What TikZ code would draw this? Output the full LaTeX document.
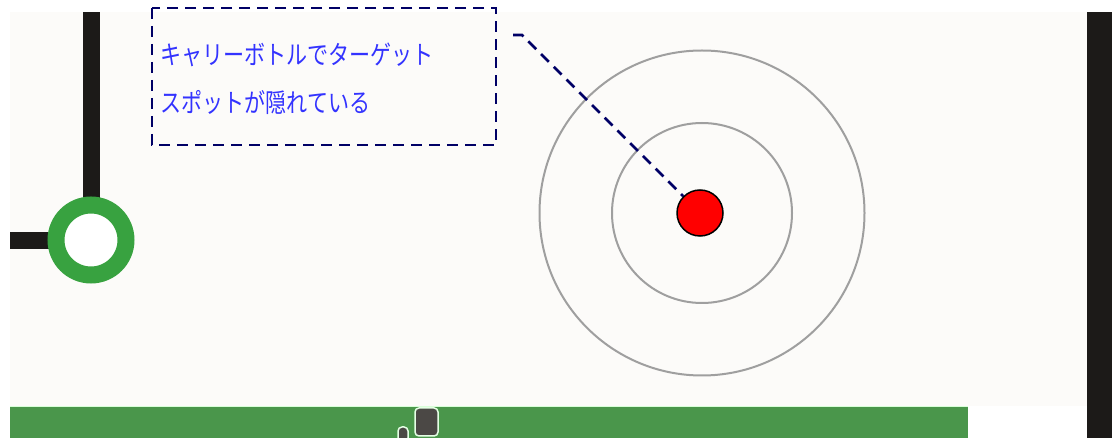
\documentclass[tikz,border=0pt]{standalone}
\usepackage{fontspec}
\newfontfamily\jp{Noto Sans CJK JP}
\definecolor{panel}{HTML}{FCFBF9}
\definecolor{ringgreen}{HTML}{38A240}
\definecolor{bandgreen}{HTML}{4A964B}
\definecolor{navy}{HTML}{000066}
\definecolor{txtblue}{HTML}{3333FF}
\definecolor{bar}{HTML}{1C1A18}
\definecolor{robot}{HTML}{4B4845}
\tikzset{
  navydash/.style={draw=navy, line width=2.7pt, dash pattern=on 11pt off 7pt},
  target/.style={draw=gray!75, line width=2pt},
  label/.style={text=txtblue, font=\jp\fontsize{26pt}{30pt}\selectfont, anchor=west, inner sep=0pt},
}
\begin{document}
\begin{tikzpicture}[x=1pt,y=-1pt]
\useasboundingbox (0,0) rectangle (1112,438);
\fill[white] (0,0) rectangle (1112,438);
\fill[panel] (10,12) rectangle (1087,406);
% right black bar
\fill[bar] (1087,12) rectangle (1112,438);
% bottom green band
\fill[bandgreen] (10,406) rectangle (968,438);
\draw[white!85!green, line width=1pt] (10,406.5) -- (968,406.5);
% robot marks
\draw[white!90!green, line width=1.5pt, fill=robot, rounded corners=4pt] (415,408) rectangle (438,436);
\draw[white!90!green, line width=1.5pt, fill=robot, rounded corners=4pt] (398,427) rectangle (408,442);
% left black lines
\fill[bar] (83,12) rectangle (100,205);
\fill[bar] (10,232) rectangle (55,249);
% green ring
\node[circle, draw=ringgreen, line width=17pt, fill=white, minimum size=70pt, inner sep=0pt] (ring) at (91,240) {};
% target circles
\node[circle, target, minimum size=325pt, inner sep=0pt] (outer) at (702,213) {};
\node[circle, target, minimum size=180pt, inner sep=0pt] (inner) at (702,213) {};
\node[circle, draw=black, line width=1.5pt, fill=red, minimum size=46pt, inner sep=0pt] (spot) at (700,213) {};
% callout
\draw[navydash] (152,8) rectangle (496,145);
\node[label] (l1) at (160,55) {\scalebox{0.81}[1]{キャリーボトルでターゲット}};
\node[label] (l2) at (160,103) {\scalebox{0.81}[1]{スポットが隠れている}};
\coordinate (cstart) at (513,35);
\coordinate (cbend) at (522,35);
\draw[navydash] (cstart) -- (cbend) -- (spot.north west);
\end{tikzpicture}
\end{document}
